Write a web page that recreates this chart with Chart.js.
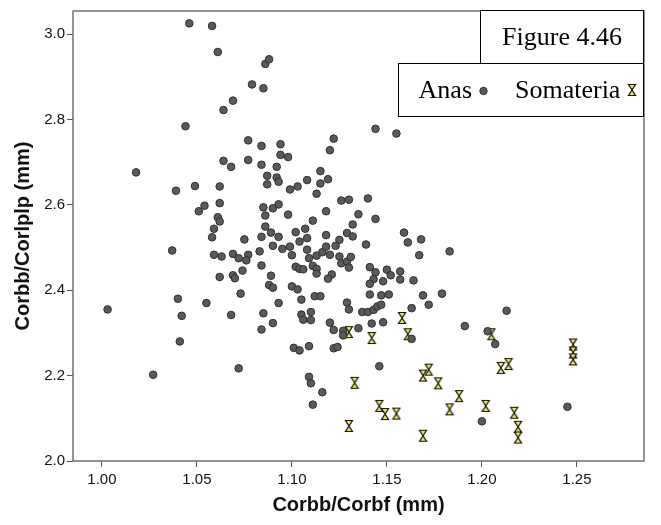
<!DOCTYPE html>
<html>
<head>
<meta charset="utf-8">
<script src="https://cdn.jsdelivr.net/npm/chart.js@4.4.0/dist/chart.umd.min.js"></script>
<style>
  html, body { margin: 0; padding: 0; background: #fff; }
  #wrap { width: 661px; height: 525px; }
</style>
</head>
<body>
<div id="wrap"><canvas id="chart" width="661" height="525"></canvas></div>
<script>
// tick labels
const xTicks = [1.00, 1.05, 1.10, 1.15, 1.20, 1.25];
const yTicks = [2.0, 2.2, 2.4, 2.6, 2.8, 3.0];

// Anas (grey circles)
const anasX = [
  1.046, 1.058, 1.061, 1.079, 1.069, 1.064, 1.044, 1.077, 1.084, 1.064,
  1.068, 1.077, 1.084, 1.018, 1.039, 1.049, 1.062, 1.054, 1.051, 1.062,
  1.061, 1.062, 1.059, 1.058, 1.075, 1.084, 1.037, 1.059, 1.063, 1.069,
  1.072, 1.077, 1.076, 1.083, 1.084, 1.074, 1.069, 1.070, 1.062, 1.073,
  1.040, 1.055, 1.003, 1.042, 1.068, 1.085, 1.084, 1.041, 1.072, 1.027,
  1.085, 1.086, 1.086, 1.085, 1.086, 1.088,
  1.144, 1.155, 1.094, 1.122, 1.120, 1.094, 1.098, 1.092, 1.087, 1.092,
  1.087, 1.093, 1.115, 1.119, 1.115, 1.108, 1.103, 1.099, 1.113, 1.126,
  1.130, 1.140, 1.090, 1.093, 1.098, 1.118, 1.111, 1.135, 1.144, 1.132,
  1.089, 1.093, 1.102, 1.107, 1.108, 1.118, 1.129, 1.132, 1.125, 1.159,
  1.161, 1.168, 1.183, 1.139, 1.090, 1.095, 1.099, 1.100, 1.104, 1.108,
  1.109, 1.113, 1.116, 1.118, 1.120, 1.123, 1.125, 1.126, 1.129, 1.130,
  1.131, 1.167, 1.102, 1.104, 1.106, 1.111, 1.113, 1.113, 1.121, 1.119,
  1.089, 1.141, 1.144, 1.150, 1.152, 1.157, 1.157, 1.164, 1.143, 1.141,
  1.148, 1.088, 1.090, 1.100, 1.103, 1.093, 1.105, 1.112, 1.115, 1.129,
  1.130, 1.141, 1.147, 1.151, 1.169, 1.179, 1.172, 1.163, 1.137, 1.140,
  1.143, 1.145, 1.147, 1.090, 1.105, 1.110, 1.106, 1.110, 1.120, 1.122,
  1.127, 1.127, 1.135, 1.142, 1.148, 1.101, 1.104, 1.109, 1.122, 1.124,
  1.163, 1.146, 1.109, 1.110, 1.116, 1.111, 1.191, 1.203, 1.207, 1.213,
  1.245, 1.200
];
const anasY = [
  3.025, 3.019, 2.958, 2.882, 2.844, 2.822, 2.784, 2.751, 2.738, 2.703,
  2.689, 2.705, 2.694, 2.676, 2.633, 2.644, 2.643, 2.598, 2.585, 2.604,
  2.571, 2.561, 2.544, 2.524, 2.519, 2.525, 2.493, 2.483, 2.479, 2.485,
  2.475, 2.483, 2.470, 2.491, 2.458, 2.446, 2.435, 2.428, 2.431, 2.392,
  2.380, 2.370, 2.355, 2.340, 2.342, 2.346, 2.308, 2.280, 2.217, 2.202,
  2.594, 2.575, 2.549, 2.873, 2.930, 2.941,
  2.778, 2.767, 2.742, 2.755, 2.728, 2.717, 2.712, 2.689, 2.668, 2.664,
  2.648, 2.654, 2.679, 2.660, 2.650, 2.658, 2.643, 2.636, 2.626, 2.610,
  2.612, 2.615, 2.592, 2.601, 2.577, 2.585, 2.563, 2.578, 2.567, 2.554,
  2.535, 2.525, 2.536, 2.544, 2.522, 2.529, 2.534, 2.526, 2.518, 2.535,
  2.512, 2.519, 2.491, 2.507, 2.504, 2.497, 2.502, 2.482, 2.514, 2.495,
  2.475, 2.481, 2.489, 2.502, 2.483, 2.504, 2.479, 2.463, 2.467, 2.453,
  2.478, 2.482, 2.455, 2.450, 2.449, 2.457, 2.450, 2.439, 2.437, 2.427,
  2.434, 2.454, 2.442, 2.448, 2.435, 2.444, 2.425, 2.423, 2.426, 2.415,
  2.421, 2.412, 2.406, 2.409, 2.402, 2.370, 2.378, 2.386, 2.386, 2.371,
  2.355, 2.390, 2.388, 2.390, 2.388, 2.392, 2.366, 2.358, 2.349, 2.349,
  2.354, 2.362, 2.366, 2.323, 2.343, 2.349, 2.331, 2.330, 2.324, 2.307,
  2.305, 2.294, 2.311, 2.322, 2.325, 2.265, 2.259, 2.269, 2.264, 2.267,
  2.286, 2.222, 2.197, 2.182, 2.161, 2.132, 2.316, 2.304, 2.274, 2.352,
  2.127, 2.093
];

// Somateria (yellow hourglasses)
const somX = [
  1.130, 1.142, 1.158, 1.161, 1.172, 1.169, 1.177, 1.133, 1.146, 1.149,
  1.155, 1.130, 1.169, 1.183, 1.188, 1.202, 1.205, 1.210, 1.214, 1.217,
  1.219, 1.219, 1.248, 1.248, 1.248
];
const somY = [
  2.302, 2.288, 2.335, 2.297, 2.214, 2.200, 2.182, 2.183, 2.129, 2.110,
  2.111, 2.082, 2.059, 2.121, 2.152, 2.129, 2.297, 2.218, 2.227, 2.113,
  2.080, 2.055, 2.273, 2.254, 2.238
];

function hourglass(w, h) {
  const c = document.createElement('canvas');
  c.width = w + 2;
  c.height = h + 2;
  const g = c.getContext('2d');
  g.translate(1, 1);
  g.beginPath();
  g.moveTo(0.5, 0.5);
  g.lineTo(w - 0.5, 0.5);
  g.lineTo(0.5, h - 0.5);
  g.lineTo(w - 0.5, h - 0.5);
  g.closePath();
  g.fillStyle = '#f0ec48';
  g.fill();
  g.strokeStyle = '#111';
  g.lineWidth = 1.2;
  g.stroke();
  return c;
}
const hourglassImg = hourglass(8, 12);

const anasFill = '#5a5a5a';
const anasLine = '#2e2e2e';

// frame round the plot area + overlay boxes (figure label, legend)
const framePlugin = {
  id: 'frame',
  beforeDatasetsDraw(chart) {
    const { ctx, chartArea: a } = chart;
    ctx.save();
    ctx.strokeStyle = '#707070';
    ctx.lineWidth = 1.5;
    ctx.strokeRect(a.left, a.top, a.right - a.left, a.bottom - a.top);
    ctx.restore();
  },
  afterDraw(chart) {
    const ctx = chart.ctx;
    ctx.save();
    ctx.lineWidth = 1;
    ctx.strokeStyle = '#000';
    ctx.fillStyle = '#fff';
    // figure label
    ctx.fillRect(480.5, 10.5, 163, 53);
    ctx.strokeRect(480.5, 10.5, 163, 53);
    // legend
    ctx.fillRect(398.5, 63.5, 245, 53);
    ctx.strokeRect(398.5, 63.5, 245, 53);

    ctx.fillStyle = '#000';
    ctx.font = '26px "Liberation Serif", "Times New Roman", serif';
    ctx.textAlign = 'center';
    ctx.textBaseline = 'alphabetic';
    ctx.fillText('Figure 4.46', 562, 45);

    ctx.textAlign = 'right';
    ctx.fillText('Anas', 472, 98);
    ctx.textAlign = 'left';
    ctx.fillText('Somateria', 515, 98);

    ctx.beginPath();
    ctx.arc(483.5, 91, 3.7, 0, Math.PI * 2);
    ctx.fillStyle = anasFill;
    ctx.fill();
    ctx.strokeStyle = anasLine;
    ctx.stroke();

    ctx.drawImage(hourglassImg, 632 - hourglassImg.width / 2, 90 - hourglassImg.height / 2);
    ctx.restore();
  }
};

const ctx = document.getElementById('chart').getContext('2d');
new Chart(ctx, {
  type: 'scatter',
  data: {
    datasets: [
      {
        label: 'Anas',
        data: anasX.map((x, i) => ({ x: x, y: anasY[i] })),
        pointStyle: 'circle',
        pointRadius: 3.8,
        pointBorderWidth: 1,
        backgroundColor: anasFill,
        borderColor: anasLine
      },
      {
        label: 'Somateria',
        data: somX.map((x, i) => ({ x: x, y: somY[i] })),
        pointStyle: hourglassImg
      }
    ]
  },
  plugins: [framePlugin],
  options: {
    responsive: false,
    animation: false,
    layout: { padding: { top: 10, right: 17, left: 0, bottom: 0 } },
    plugins: {
      legend: { display: false },
      tooltip: { enabled: false },
      title: { display: false }
    },
    scales: {
      x: {
        type: 'linear',
        min: 0.9848,
        max: 1.2853,
        afterBuildTicks: (axis) => { axis.ticks = xTicks.map(v => ({ value: v })); },
        afterFit: (axis) => { axis.height = 64; },
        grid: { drawOnChartArea: false, drawTicks: true, tickLength: 6, color: '#555' },
        border: { display: false },
        ticks: {
          color: '#111',
          padding: 4,
          maxRotation: 0,
          font: { family: '"Liberation Sans", Arial, sans-serif', size: 15 },
          callback: (v) => Number(v).toFixed(2)
        },
        title: {
          display: true,
          text: 'Corbb/Corbf (mm)',
          color: '#111',
          padding: { top: 0, bottom: 8 },
          font: { family: '"Liberation Sans", Arial, sans-serif', size: 20, weight: 'bold' }
        }
      },
      y: {
        type: 'linear',
        min: 2.0,
        max: 3.054,
        afterBuildTicks: (axis) => { axis.ticks = yTicks.map(v => ({ value: v })); },
        afterFit: (axis) => { axis.width = 73; },
        grid: { drawOnChartArea: false, drawTicks: true, tickLength: 6, color: '#555' },
        border: { display: false },
        ticks: {
          color: '#111',
          padding: 2,
          font: { family: '"Liberation Sans", Arial, sans-serif', size: 15 },
          callback: (v) => Number(v).toFixed(1)
        },
        title: {
          display: true,
          text: 'Corbb/Corlplp (mm)',
          color: '#111',
          padding: { top: 11, bottom: 0 },
          font: { family: '"Liberation Sans", Arial, sans-serif', size: 20, weight: 'bold' }
        }
      }
    }
  }
});
</script>
</body>
</html>
